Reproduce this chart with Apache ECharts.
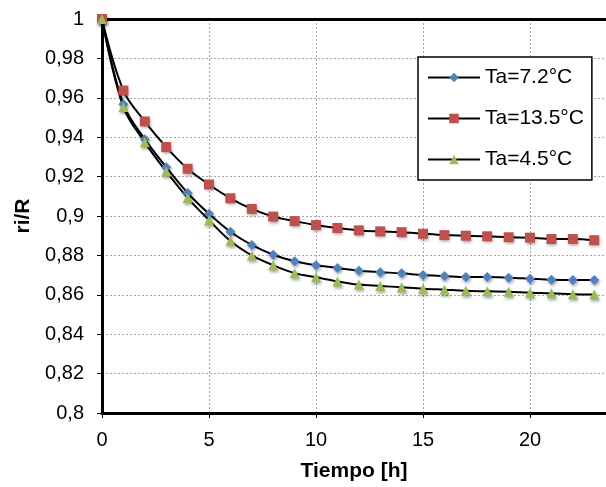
<!DOCTYPE html>
<html>
<head>
<meta charset="utf-8">
<script src="https://cdn.jsdelivr.net/npm/echarts@6/dist/echarts.min.js"></script>
<style>
  html, body { margin: 0; padding: 0; background: #fff; }
  #chart { width: 606px; height: 487px; }
</style>
</head>
<body>
<div id="chart"></div>
<script>
// horas
const hours = [0, 1, 2, 3, 4, 5, 6, 7, 8, 9, 10, 11, 12, 13, 14, 15, 16, 17, 18, 19, 20, 21, 22, 23]

// ri/R por temperatura ambiente
const ta72 = [1, 0.9567, 0.939, 0.9248, 0.9117, 0.9011, 0.892, 0.8853, 0.8803, 0.877, 0.875,
  0.8736, 0.8722, 0.8715, 0.8709, 0.87, 0.8695, 0.869, 0.869, 0.8687, 0.8682, 0.8677, 0.8675, 0.8675]
const ta135 = [1, 0.9637, 0.948, 0.935, 0.924, 0.916, 0.909, 0.9036, 0.8997, 0.8974, 0.8954,
  0.8939, 0.8927, 0.8922, 0.8918, 0.891, 0.8903, 0.89, 0.8897, 0.8892, 0.889, 0.8883, 0.8883, 0.8877]
const ta45 = [1, 0.9553, 0.9374, 0.9226, 0.9092, 0.8979, 0.8873, 0.88, 0.875, 0.871, 0.8689,
  0.8668, 0.8652, 0.8645, 0.8638, 0.8631, 0.8626, 0.8621, 0.8618, 0.8616, 0.8611, 0.8608, 0.8603, 0.8601]

const seriesNames = ['Ta=7.2°C', 'Ta=13.5°C', 'Ta=4.5°C']
const xTicks = [0, 5, 10, 15, 20]

const font = 'Liberation Sans, Arial, sans-serif'
const markerShadow = {
  shadowColor: 'rgba(0,0,0,0.35)',
  shadowBlur: 3,
  shadowOffsetX: 1,
  shadowOffsetY: 2
}

function makeSeries(name, values, symbol, size, color) {
  return {
    name,
    type: 'line',
    smooth: 0.35,
    data: hours.map((h, i) => [h, values[i]]),
    symbol,
    symbolSize: size,
    showAllSymbol: true,
    lineStyle: { color: '#000', width: 2 },
    itemStyle: Object.assign({ color, borderWidth: 0 }, markerShadow),
    emphasis: { disabled: true },
    z: 3
  }
}

const chart = echarts.init(document.getElementById('chart'), null, { renderer: 'canvas' })

chart.setOption({
  animation: false,
  backgroundColor: '#fff',
  textStyle: { fontFamily: font },
  grid: { left: 102, top: 19, right: 0, bottom: 71, containLabel: false },
  legend: {
    orient: 'vertical',
    left: 418,
    top: 57,
    data: seriesNames,
    itemWidth: 52,
    itemHeight: 12,
    itemGap: 20,
    padding: [10, 8, 10, 9],
    borderColor: '#000',
    borderWidth: 1.5,
    backgroundColor: '#fff',
    textStyle: { fontSize: 21, color: '#000', fontFamily: font },
    selectedMode: false
  },
  xAxis: [
    {
      type: 'value',
      min: 0,
      max: 23.55,
      interval: 5,
      name: 'Tiempo [h]',
      nameLocation: 'middle',
      nameGap: 48,
      nameTextStyle: { fontSize: 21, fontWeight: 'bold', color: '#000', fontFamily: font },
      axisLine: { show: true, lineStyle: { color: '#000', width: 3 } },
      axisTick: { show: true, length: 5, lineStyle: { color: '#000', width: 1 } },
      axisLabel: {
        margin: 17,
        fontSize: 20,
        color: '#000',
        showMaxLabel: false,
        formatter: v => (xTicks.includes(v) ? String(v) : '')
      },
      splitLine: { show: true, lineStyle: { color: '#a6a6a6', type: [2, 2], width: 1 } }
    },
    {
      type: 'value',
      position: 'top',
      min: 0,
      max: 23.55,
      axisLine: { show: true, onZero: false, lineStyle: { color: '#000', width: 3 } },
      axisTick: { show: false },
      axisLabel: { show: false },
      splitLine: { show: false }
    }
  ],
  yAxis: {
    type: 'value',
    min: 0.8,
    max: 1,
    interval: 0.02,
    name: 'ri/R',
    nameLocation: 'middle',
    nameGap: 64,
    nameTextStyle: { fontSize: 21, fontWeight: 'bold', color: '#000', fontFamily: font },
    axisLine: { show: true, lineStyle: { color: '#000', width: 3 } },
    axisTick: { show: true, length: 5, lineStyle: { color: '#000', width: 1 } },
    axisLabel: {
      margin: 18,
      fontSize: 20,
      color: '#000',
      padding: [0, 0, 4, 0],
      formatter: v => String(+v.toFixed(2)).replace('.', ',')
    },
    splitLine: { show: true, lineStyle: { color: '#a6a6a6', type: [2, 2], width: 1 } }
  },
  series: [
    makeSeries(seriesNames[0], ta72, 'diamond', 10, '#4f81bd'),
    makeSeries(seriesNames[1], ta135, 'rect', 10, '#c0504d'),
    makeSeries(seriesNames[2], ta45, 'triangle', 10, '#9bbb59')
  ]
})
</script>
</body>
</html>
